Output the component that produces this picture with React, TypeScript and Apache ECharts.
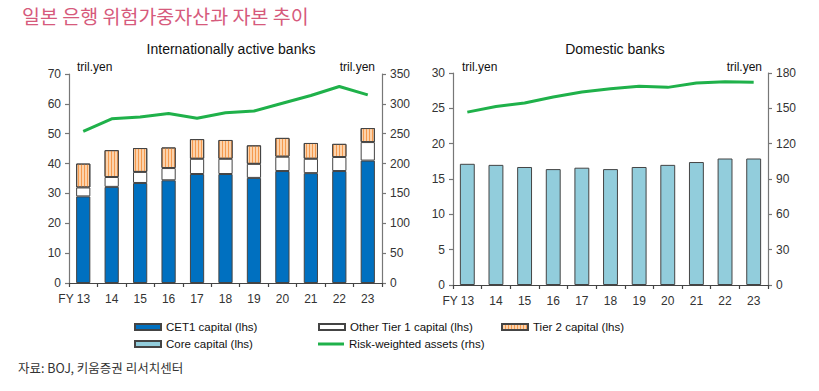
import React, { useEffect, useRef } from "react";
import * as echarts from "echarts";

const years = ["FY13", "14", "15", "16", "17", "18", "19", "20", "21", "22", "23"];
const cet1 = [29.0, 32.2, 33.5, 34.4, 36.5, 36.5, 35.2, 37.5, 36.8, 37.5, 41.0];
const otherTier1 = [3.0, 3.3, 3.7, 4.1, 5.1, 5.1, 4.7, 4.8, 4.8, 4.7, 6.2];
const tier2 = [8.0, 9.0, 8.0, 6.9, 6.6, 6.3, 6.2, 6.3, 5.3, 4.4, 4.7];
const rwaIntl = [254, 275, 278, 284, 276, 285, 288, 301, 314, 329, 315];
const coreCapital = [17.15, 17.0, 16.7, 16.4, 16.6, 16.4, 16.7, 17.0, 17.4, 17.9, 17.9];
const rwaDom = [146.8, 151.6, 154.5, 159.6, 163.8, 166.6, 168.7, 167.8, 171.5, 172.6, 172.1];

const FONT = "'Liberation Sans', Arial, sans-serif";
const KFONT = "'Noto Sans CJK KR', 'Liberation Sans', sans-serif";
const GREEN = "#1fb14a";

export default function App() {
  const ref = useRef<HTMLDivElement>(null);
  useEffect(() => {
    if (!ref.current) return;
    const chart = echarts.init(ref.current, null, { renderer: "svg" });
    const axisLabel = { color: "#333", fontSize: 12, fontFamily: FONT, margin: 7 };
    const axisLine = { show: true, lineStyle: { color: "#777", width: 1.2 } };
    const axisTick = { show: true, length: 4, lineStyle: { color: "#777", width: 1.2 } };
    const xAxisBase = (gridIndex: number) => ({
      type: "category",
      gridIndex,
      data: years,
      axisLine: { show: true, lineStyle: { color: "#444", width: 1.2 } },
      axisTick: { show: true, length: 4, alignWithLabel: false, interval: 0, lineStyle: { color: "#444", width: 1.2 } },
      axisLabel: {
        ...axisLabel,
        margin: 10,
        interval: 0,
        hideOverlap: false,
        formatter: (v: string) => (v === "FY13" ? "{fy|FY 13}" : v),
        rich: { fy: { color: "#333", fontSize: 12, fontFamily: FONT, padding: [0, 18, 0, 0] } },
      },
    });
    const yAxisBase = (gridIndex: number, max: number, interval: number, pos: string) => ({
      type: "value",
      gridIndex,
      min: 0,
      max,
      interval,
      position: pos,
      axisLine,
      axisTick,
      splitLine: { show: false },
      axisLabel: { ...axisLabel, margin: 8 },
    });
    const legendItem = (name: string, left: number, top: number, h = 6, extra: any = {}) => ({
      left,
      top,
      itemWidth: 26,
      itemHeight: h,
      padding: 0,
      selectedMode: false,
      textStyle: { color: "#111", fontSize: 11.5, fontFamily: FONT },
      data: [{ name, icon: "rect", ...extra }],
    });
    const barBorder = { borderColor: "#444", borderWidth: 1 };
    chart.setOption({
      animation: false,
      backgroundColor: "#fff",
      title: [
        {
          text: "일본 은행 위험가중자산과 자본 추이",
          left: 17,
          top: 1,
          textStyle: { color: "#d65a7c", fontSize: 19.5, fontWeight: "normal", fontFamily: KFONT },
        },
        {
          text: "Internationally active banks",
          left: 226,
          top: 37,
          textAlign: "center",
          textStyle: { color: "#111", fontSize: 14, fontWeight: "normal", fontFamily: FONT },
        },
        {
          text: "Domestic banks",
          left: 610,
          top: 37,
          textAlign: "center",
          textStyle: { color: "#111", fontSize: 14, fontWeight: "normal", fontFamily: FONT },
        },
      ],
      graphic: [
        { type: "text", left: 77, top: 61, style: { text: "tril.yen", fill: "#111", font: `12px ${FONT}` } },
        { type: "text", right: 819 - 375, top: 61, style: { text: "tril.yen", fill: "#111", font: `12px ${FONT}` } },
        { type: "text", left: 462, top: 61, style: { text: "tril.yen", fill: "#111", font: `12px ${FONT}` } },
        { type: "text", right: 819 - 762, top: 61, style: { text: "tril.yen", fill: "#111", font: `12px ${FONT}` } },
        {
          type: "text",
          left: 18,
          top: 361,
          style: { text: "자료: BOJ, 키움증권 리서치센터", fill: "#333", font: `12.5px ${KFONT}` },
        },
      ],
      legend: [
        legendItem("CET1 capital (lhs)", 134, 321),
        legendItem("Other Tier 1 capital (lhs)", 318, 321),
        legendItem("Tier 2 capital (lhs)", 501, 321),
        legendItem("Core capital (lhs)", 134, 338),
        legendItem("Risk-weighted assets (rhs)", 318, 338, 6, {
          icon: "path://M0,2.5 L26,2.5 L26,5.5 L0,5.5 Z",
          itemStyle: { color: GREEN, borderWidth: 0 },
        }),
      ],
      grid: [
        { left: 69, right: 819 - 382, top: 74, height: 209 },
        { left: 453, right: 819 - 768, top: 73, height: 212 },
      ],
      xAxis: [xAxisBase(0), xAxisBase(1)],
      yAxis: [
        yAxisBase(0, 70, 10, "left"),
        yAxisBase(0, 350, 50, "right"),
        yAxisBase(1, 30, 5, "left"),
        yAxisBase(1, 180, 30, "right"),
      ],
      series: [
        {
          name: "CET1 capital (lhs)",
          type: "bar",
          xAxisIndex: 0,
          yAxisIndex: 0,
          stack: "a",
          barWidth: "50%",
          data: cet1,
          itemStyle: { color: "#0070c0", ...barBorder },
        },
        {
          name: "Other Tier 1 capital (lhs)",
          type: "bar",
          xAxisIndex: 0,
          yAxisIndex: 0,
          stack: "a",
          barWidth: "50%",
          data: otherTier1,
          itemStyle: { color: "#ffffff", ...barBorder },
        },
        {
          name: "Tier 2 capital (lhs)",
          type: "bar",
          xAxisIndex: 0,
          yAxisIndex: 0,
          stack: "a",
          barWidth: "50%",
          data: tier2,
          itemStyle: {
            color: "#fcd3ac",
            ...barBorder,
            decal: {
              symbol: "rect",
              symbolSize: 1,
              color: "#f59a4e",
              dashArrayX: [1, 2],
              dashArrayY: [4, 0],
              rotation: 0,
            },
          },
        },
        {
          name: "Risk-weighted assets (rhs)",
          type: "line",
          xAxisIndex: 0,
          yAxisIndex: 1,
          data: rwaIntl,
          symbol: "none",
          lineStyle: { color: GREEN, width: 3 },
          itemStyle: { color: GREEN },
        },
        {
          name: "Core capital (lhs)",
          type: "bar",
          xAxisIndex: 1,
          yAxisIndex: 2,
          barWidth: "52%",
          data: coreCapital,
          itemStyle: { color: "#92cddc", ...barBorder },
        },
        {
          name: "Risk-weighted assets (rhs)",
          type: "line",
          xAxisIndex: 1,
          yAxisIndex: 3,
          data: rwaDom,
          symbol: "none",
          lineStyle: { color: GREEN, width: 3 },
          itemStyle: { color: GREEN },
        },
      ],
    });
    return () => chart.dispose();
  }, []);
  return (
    <div
      ref={ref}
      style={{ position: "fixed", left: 0, top: 0, width: 819, height: 391, background: "#fff" }}
    />
  );
}
